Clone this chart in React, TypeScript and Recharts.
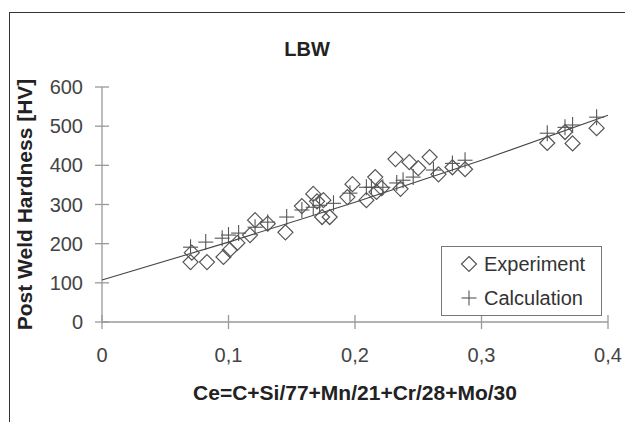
import { Label, Scatter, ScatterChart, XAxis, YAxis } from 'recharts';

// Ce value and measured hardness (diamonds)
const EXP_CE = [
	0.07, 0.071, 0.083, 0.096, 0.101, 0.107, 0.117, 0.121, 0.131, 0.145, 0.158, 0.167, 0.17, 0.175, 0.174, 0.18,
	0.194, 0.198, 0.209, 0.216, 0.217, 0.221, 0.232, 0.236, 0.243, 0.25, 0.259, 0.266, 0.277, 0.287, 0.352, 0.366,
	0.372, 0.391,
];
const EXP_HV = [
	153, 177, 153, 166, 184, 202, 222, 260, 251, 229, 296, 327, 308, 311, 268, 268, 319, 352, 311, 370, 332, 342,
	416, 340, 408, 393, 421, 377, 395, 390, 457, 485, 456, 495,
];

// Ce value and calculated hardness (crosses)
const CALC_CE = [
	0.07, 0.082, 0.095, 0.1, 0.108, 0.121, 0.131, 0.146, 0.158, 0.167, 0.172, 0.183, 0.196, 0.209, 0.213, 0.222,
	0.233, 0.238, 0.246, 0.262, 0.277, 0.287, 0.352, 0.366, 0.372, 0.391,
];
const CALC_HV = [
	191, 204, 214, 222, 227, 242, 255, 268, 286, 293, 298, 303, 329, 344, 344, 344, 355, 362, 370, 388, 405, 413,
	482, 497, 503, 523,
];

// trend line through the calculated values
const FIT_CE = [0, 0.1, 0.2, 0.3, 0.4];
const FIT_HV = [107, 204, 306, 413, 528];

const X_TICKS = [0, 0.1, 0.2, 0.3, 0.4];
const Y_TICKS = [0, 100, 200, 300, 400, 500, 600];

const FONT = '"Liberation Sans", Arial, sans-serif';
const AXIS = '#9a9a9a';
const MARK = '#555';

const toPoints = (xs: number[], ys: number[]) => xs.map((x, i) => ({ ce: x, hv: ys[i] }));

const expData = toPoints(EXP_CE, EXP_HV);
const calcData = toPoints(CALC_CE, CALC_HV);
const fitData = toPoints(FIT_CE, FIT_HV);

const fmtCe = (v: number) => (v === 0 ? '0' : v.toFixed(1).replace('.', ','));

const Diamond = ({ cx, cy }: any) => (
	<polygon
		points={`${cx},${cy - 7.5} ${cx + 7.5},${cy} ${cx},${cy + 7.5} ${cx - 7.5},${cy}`}
		fill="none"
		stroke={MARK}
		strokeWidth={1.2}
	/>
);

const Cross = ({ cx, cy }: any) => (
	<g stroke={MARK} strokeWidth={1.1}>
		<line x1={cx - 7.5} y1={cy} x2={cx + 7.5} y2={cy} />
		<line x1={cx} y1={cy - 8} x2={cx} y2={cy + 8} />
	</g>
);

const NoDot = () => <g />;

const YTick = ({ x, y, payload }: any) => {
	const ax = x + 19;
	return (
		<g>
			<line x1={ax - 7} y1={y} x2={ax + 7} y2={y} stroke={AXIS} strokeWidth={1.3} />
			<text x={x} y={y} dy="0.355em" textAnchor="end" fontSize={20} fill="#444" fontFamily={FONT}>
				{payload.value}
			</text>
		</g>
	);
};

const XTick = ({ x, y, payload }: any) => {
	const ay = y - 26;
	return (
		<g>
			<line x1={x} y1={ay - 7} x2={x} y2={ay + 7} stroke={AXIS} strokeWidth={1.3} />
			<text x={x} y={y} dy="0.71em" textAnchor="middle" fontSize={20} fill="#444" fontFamily={FONT}>
				{fmtCe(payload.value)}
			</text>
		</g>
	);
};

const LegendBox = () => (
	<div
		style={{
			position: 'absolute',
			left: 441,
			top: 246,
			border: '1px solid #777',
			background: '#fff',
			width: 159,
			height: 68,
			fontFamily: FONT,
			fontSize: 20,
			color: '#333',
		}}
	>
		<div style={{ display: 'flex', alignItems: 'center', height: 34, paddingLeft: 18 }}>
			<svg width={18} height={18} style={{ marginRight: 6 }}>
				<polygon points="9,1.5 16.5,9 9,16.5 1.5,9" fill="none" stroke={MARK} strokeWidth={1.2} />
			</svg>
			Experiment
		</div>
		<div style={{ display: 'flex', alignItems: 'center', height: 34, paddingLeft: 18 }}>
			<svg width={18} height={18} style={{ marginRight: 6 }}>
				<line x1={1.5} y1={9} x2={16.5} y2={9} stroke={MARK} strokeWidth={1.1} />
				<line x1={9} y1={1.5} x2={9} y2={16.5} stroke={MARK} strokeWidth={1.1} />
			</svg>
			Calculation
		</div>
	</div>
);

export default function App() {
	return (
		<div style={{ position: 'fixed', left: 0, top: 0, width: 625, height: 422, overflow: 'hidden', background: '#fff' }}>
			<div
				style={{
					position: 'absolute',
					left: 9,
					top: 12,
					width: 700,
					height: 500,
					borderLeft: '1.5px solid #333',
					borderTop: '1.5px solid #333',
				}}
			/>
			<div
				style={{
					position: 'absolute',
					left: 257,
					top: 39,
					width: 100,
					textAlign: 'center',
					fontFamily: FONT,
					fontWeight: 'bold',
					fontSize: 20,
					lineHeight: '20px',
					color: '#222',
				}}
			>
				LBW
			</div>
			<div style={{ position: 'absolute', left: 0, top: 0 }}>
				<ScatterChart width={625} height={422} margin={{ top: 87, right: 17, bottom: 0, left: 0 }}>
					<XAxis
						type="number"
						dataKey="ce"
						domain={[0, 0.4]}
						ticks={X_TICKS}
						tick={<XTick />}
						tickLine={false}
						tickSize={7}
						tickMargin={19}
						height={100}
						stroke={AXIS}
						strokeWidth={1.3}
					>
						<Label
							value="Ce=C+Si/77+Mn/21+Cr/28+Mo/30"
							position="insideBottom"
							offset={22}
							style={{ fontFamily: FONT, fontWeight: 'bold', fontSize: 21, fill: '#222' }}
						/>
					</XAxis>
					<YAxis
						type="number"
						dataKey="hv"
						domain={[0, 600]}
						ticks={Y_TICKS}
						tick={<YTick />}
						tickLine={false}
						tickSize={7}
						tickMargin={12}
						width={102}
						stroke={AXIS}
						strokeWidth={1.3}
					>
						<Label
							value="Post Weld Hardness [HV]"
							angle={-90}
							position="insideLeft"
							offset={25}
							style={{ textAnchor: 'middle', fontFamily: FONT, fontWeight: 'bold', fontSize: 21, fill: '#222' }}
						/>
					</YAxis>
					<Scatter
						name="fit"
						data={fitData}
						line={{ stroke: '#444', strokeWidth: 1.1 }}
						shape={<NoDot />}
						isAnimationActive={false}
					/>
					<Scatter name="Calculation" data={calcData} shape={<Cross />} isAnimationActive={false} />
					<Scatter name="Experiment" data={expData} shape={<Diamond />} isAnimationActive={false} />
				</ScatterChart>
			</div>
			<LegendBox />
		</div>
	);
}
